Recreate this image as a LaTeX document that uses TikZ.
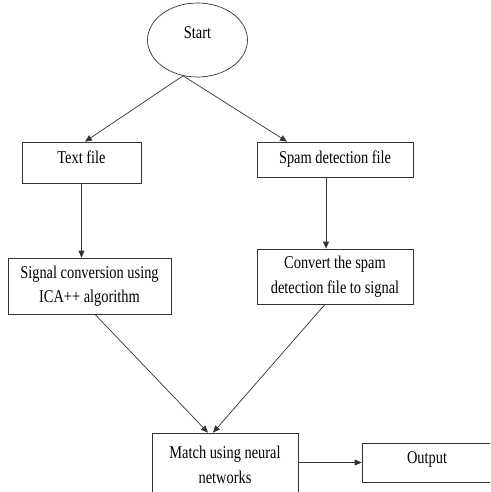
\documentclass[tikz,border=0pt]{standalone}
\usepackage{fontspec}
\setmainfont[FakeStretch=0.8]{Liberation Serif}
\usetikzlibrary{shapes.geometric,arrows.meta}

\begin{document}
\begin{tikzpicture}[%
      x=1pt, y=-1pt,
      box/.style={draw=black!80, line width=0.7pt, rectangle, inner sep=0pt,
        align=center, font=\fontsize{18}{24.5}\selectfont},
      link/.style={draw=black!80, line width=0.7pt, -{Triangle[length=7pt,width=6pt]}},
      ]
      \useasboundingbox (0,0) rectangle (490,492);
      \clip (0,0) rectangle (490,492);

      \node [box, ellipse, minimum width=100pt, minimum height=74pt, text depth=15.7pt] (start) at (197.5,40) {Start};

      \node [box, minimum width=119pt, minimum height=41pt, text depth=10.7pt] (textfile) at (81.5,162.5) {Text file};
      \node [box, minimum width=156pt, minimum height=35pt] (spam) at (335,159.5) {Spam detection file};

      \node [box, minimum width=163pt, minimum height=56pt] (signal) at (89.5,286) {Signal conversion using\\ICA++ algorithm};
      \node [box, minimum width=156pt, minimum height=55pt] (convert) at (335,276.5) {Convert the spam\\detection file to signal};

      \node [box, minimum width=146pt, minimum height=64pt] (match) at (225,465) {Match using neural\\networks};
      \node [box, minimum width=130pt, minimum height=39pt, text depth=10.6pt] (output) at (427,462.5) {Output};

      \draw [link] (start.248) -- ([xshift=3.5pt]textfile.north);
      \draw [link] (start.248) -- ([xshift=-48pt]spam.north);
      \draw [link] (textfile.south) -- (textfile.south |- signal.north);
      \draw [link] ([xshift=-9pt]spam.south) -- ([xshift=-9pt]spam.south |- convert.north);
      \draw [link] ([xshift=5.5pt]signal.south) -- ([xshift=-17pt]match.north);
      \draw [link] ([xshift=-10pt]convert.south) -- ([xshift=-12pt]match.north);
      \draw [link] (match.east |- output.west) -- (output.west);
\end{tikzpicture}
\end{document}
